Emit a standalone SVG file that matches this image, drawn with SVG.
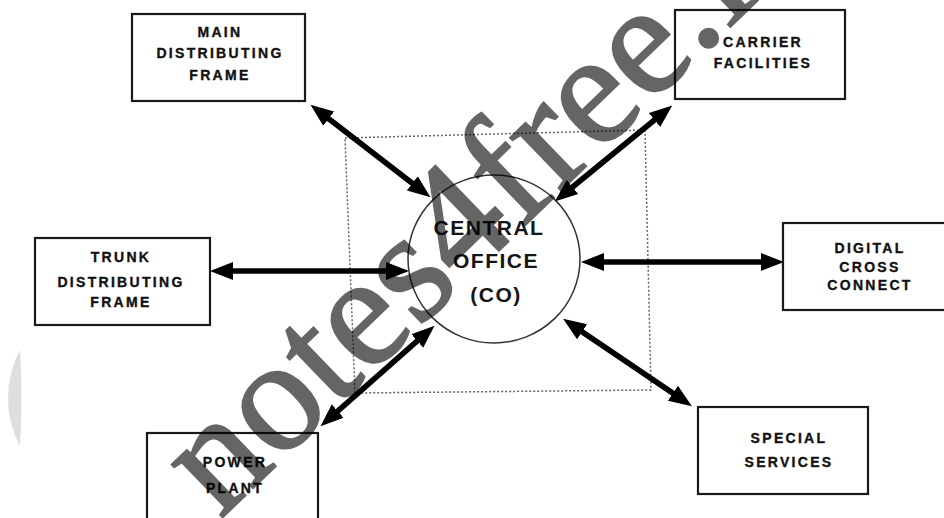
<svg xmlns="http://www.w3.org/2000/svg" width="944" height="518" viewBox="0 0 944 518">
<defs>
<style>
.box{fill:#fff;stroke:#1a1a1a;stroke-width:2.2}
.lbl{font-family:"Liberation Sans",Arial,sans-serif;font-weight:bold;font-size:14px;letter-spacing:2.3px;fill:#111;stroke:#111;stroke-width:0.35;text-anchor:middle}
.co{font-family:"Liberation Sans",Arial,sans-serif;font-weight:bold;font-size:21px;letter-spacing:1.5px;fill:#151515;text-anchor:middle}
.arr{stroke:#000;stroke-width:5.5;fill:none;marker-start:url(#ah);marker-end:url(#ah)}
.wm{font-family:"Liberation Serif","Times New Roman",serif;font-size:160px;fill:#000;stroke:#000;stroke-width:2}
</style>
<marker id="ah" markerUnits="userSpaceOnUse" markerWidth="24" markerHeight="20" refX="11" refY="10" orient="auto-start-reverse">
<path d="M0,1 L23,10 L0,19 Z" fill="#000"/>
</marker>
</defs>
<rect width="944" height="518" fill="#fff"/>
<path d="M20,350 A102,102 0 0 0 20,446 Q23,398 20,350 Z" fill="#dedede"/>

<g id="boundary">
<polygon points="345,138 645,130 651,390 355,393" fill="none" stroke="#666" stroke-width="1.5" stroke-dasharray="2 2"/>
</g>

<g id="connectors">
<line class="arr" x1="320" y1="112" x2="421" y2="190"/>
<line class="arr" x1="663" y1="113" x2="564" y2="194"/>
<line class="arr" x1="222" y1="271" x2="397" y2="271"/>
<line class="arr" x1="593" y1="262" x2="772" y2="262"/>
<line class="arr" x1="329.5" y1="418.4" x2="425.5" y2="333.6"/>
<line class="arr" x1="573" y1="325.6" x2="682" y2="399.4"/>
</g>

<g id="central-office">
<ellipse cx="494" cy="259" rx="86" ry="84" fill="none" stroke="#333" stroke-width="1.5"/>
<text class="co" x="489" y="235">CENTRAL</text>
<text class="co" x="496" y="268">OFFICE</text>
<text class="co" x="496" y="302">(CO)</text>
</g>

<g id="main-distributing-frame">
<rect class="box" x="132" y="14" width="173" height="87"/>
<text class="lbl" x="220" y="37">MAIN</text>
<text class="lbl" x="220" y="58">DISTRIBUTING</text>
<text class="lbl" x="220" y="80">FRAME</text>
</g>

<g id="carrier-facilities">
<rect class="box" x="675" y="10" width="170" height="89"/>
<text class="lbl" x="763" y="47">CARRIER</text>
<text class="lbl" x="763" y="68">FACILITIES</text>
</g>

<g id="trunk-distributing-frame">
<rect class="box" x="35" y="238" width="175" height="87"/>
<text class="lbl" x="121" y="262">TRUNK</text>
<text class="lbl" x="121" y="287">DISTRIBUTING</text>
<text class="lbl" x="121" y="307">FRAME</text>
</g>

<g id="digital-cross-connect">
<rect class="box" x="783" y="223" width="170" height="87"/>
<text class="lbl" x="870" y="253">DIGITAL</text>
<text class="lbl" x="870" y="272">CROSS</text>
<text class="lbl" x="870" y="290">CONNECT</text>
</g>

<g id="power-plant">
<rect class="box" x="147" y="433" width="171" height="95"/>
<text class="lbl" x="235" y="467">POWER</text>
<text class="lbl" x="235" y="493">PLANT</text>
</g>

<g id="special-services">
<rect class="box" x="698" y="407" width="170" height="87"/>
<text class="lbl" x="789" y="443">SPECIAL</text>
<text class="lbl" x="789" y="467">SERVICES</text>
</g>

<g id="watermark" opacity="0.6">
<text class="wm" transform="translate(220,520) rotate(-44)">notes4free.in</text>
</g>
</svg>
